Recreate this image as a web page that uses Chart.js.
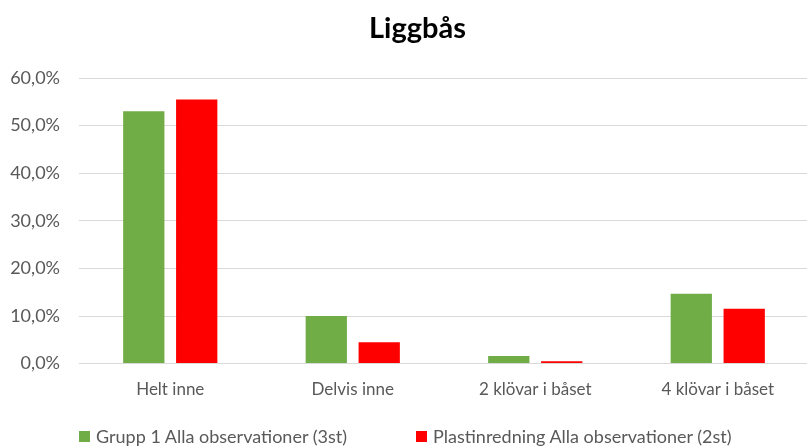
<!DOCTYPE html>
<html>
<head>
<meta charset="utf-8">
<script src="https://cdn.jsdelivr.net/npm/chart.js@4.4.1/dist/chart.umd.min.js"></script>
<style>
  html, body { margin: 0; padding: 0; background: #fff; overflow: hidden; }
  #wrap { position: relative; width: 835px; height: 446px; }
  #title { position: absolute; left: 0; top: 9px; width: 835px; height: 35px; line-height: 35px; text-align: center;
           font-family: Lato, "Liberation Sans", sans-serif; font-size: 29px; font-weight: bold; color: #000; }
  #legend { position: absolute; left: 0; top: 425px; width: 835px; height: 22px;
            font-family: Lato, "Liberation Sans", sans-serif; font-size: 18px; color: #595959; }
  #legend .item { position: absolute; top: 0; display: flex; align-items: center; white-space: nowrap; height: 22px; }
  #legend .sw { width: 11px; height: 11px; margin-right: 6px; display: inline-block; }
</style>
</head>
<body>
<div id="wrap">
  <canvas id="c" width="835" height="446"></canvas>
  <div id="title"></div>
  <div id="legend"></div>
</div>
<script>
const titleText = "Liggbås";
const categories = ["Helt inne", "Delvis inne", "2 klövar i båset", "4 klövar i båset"];
const seriesNames = ["Grupp 1 Alla observationer (3st)", "Plastinredning Alla observationer (2st)"];
const grupp1 = [53.0, 10.0, 1.6, 14.7];
const plast = [55.5, 4.5, 0.5, 11.5];
const colors = ["#70AD47", "#FF0000"];
const yMax = 60;
const yStep = 10;

const fontFamily = 'Lato, "Liberation Sans", sans-serif';
const textColor = "#595959";

document.getElementById("title").textContent = titleText;

const chart = new Chart(document.getElementById("c"), {
  type: "bar",
  data: {
    labels: categories,
    datasets: [
      { label: seriesNames[0], data: grupp1, backgroundColor: colors[0], categoryPercentage: 0.58, barPercentage: 0.78 },
      { label: seriesNames[1], data: plast, backgroundColor: colors[1], categoryPercentage: 0.58, barPercentage: 0.78 }
    ]
  },
  options: {
    responsive: false,
    animation: false,
    layout: { padding: { left: 8, right: 26, top: 78, bottom: 30 } },
    plugins: {
      legend: { display: false },
      tooltip: { enabled: false },
      title: { display: false }
    },
    scales: {
      x: {
        grid: { display: false, drawTicks: false },
        border: { display: true, color: "#D9D9D9", width: 1 },
        ticks: { color: textColor, font: { family: fontFamily, size: 17 }, padding: 16, maxRotation: 0 }
      },
      y: {
        min: 0, max: yMax,
        afterFit: s => { s.width = 71; },
        grid: { color: "#D9D9D9", drawTicks: false },
        border: { display: false },
        ticks: {
          stepSize: yStep,
          color: textColor,
          font: { family: fontFamily, size: 18 },
          padding: 19,
          callback: v => v.toFixed(1).replace(".", ",") + "%"
        }
      }
    }
  }
});

const legendLefts = [79, 416];
const legend = document.getElementById("legend");
seriesNames.forEach((name, i) => {
  const item = document.createElement("span");
  item.className = "item";
  item.style.left = legendLefts[i] + "px";
  const sw = document.createElement("span");
  sw.className = "sw";
  sw.style.background = colors[i];
  item.appendChild(sw);
  item.appendChild(document.createTextNode(name));
  legend.appendChild(item);
});
</script>
</body>
</html>
